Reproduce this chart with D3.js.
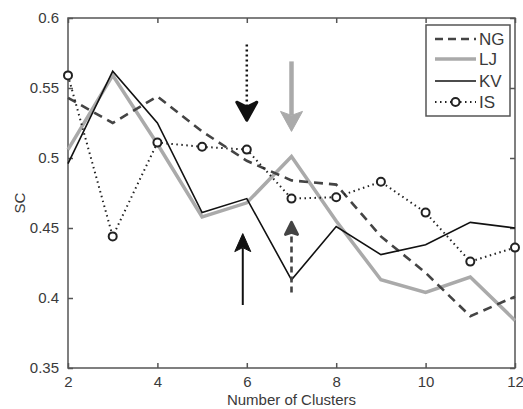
<!DOCTYPE html>
<html><head><meta charset="utf-8">
<script src="https://cdn.jsdelivr.net/npm/d3@7"></script>
<style>body{margin:0;background:#fff}svg{display:block}text{font-family:"Liberation Sans",Arial,sans-serif;fill:#3a3a3a}</style>
</head><body><svg id="c" width="523" height="409"></svg>
<script>
const clusters = [2,3,4,5,6,7,8,9,10,11,12];
const NG = [0.543,0.525,0.544,0.519,0.498,0.484,0.481,0.444,0.418,0.387,0.401];
const LJ = [0.506,0.559,0.510,0.458,0.468,0.501,0.455,0.413,0.404,0.415,0.384];
const KV = [0.496,0.562,0.525,0.461,0.471,0.413,0.451,0.431,0.438,0.454,0.450];
const IS = [0.559,0.444,0.511,0.508,0.506,0.471,0.472,0.483,0.461,0.426,0.436];
const seriesNames = ["NG","LJ","KV","IS"];
const xTicks = [2,4,6,8,10,12];
const yTicks = [0.35,0.4,0.45,0.5,0.55,0.6];
const yTickLabels = ["0.35","0.4","0.45","0.5","0.55","0.6"];
// annotation arrows: [x, yStart, yEnd] in data units
const arrowDottedDown = [6, 0.581, 0.527];
const arrowGrayDown = [7, 0.569, 0.519];
const arrowBlackUp = [5.91, 0.395, 0.446];
const arrowDashedUp = [7, 0.404, 0.454];

const svg = d3.select("#c");
const L=68,R=515,T=18,B=368;
const x = d3.scaleLinear().domain([2,12]).range([L,R]);
const y = d3.scaleLinear().domain([0.35,0.6]).range([B,T]);
const axisCol="#555";

svg.append("rect").attr("x",L).attr("y",T).attr("width",R-L).attr("height",B-T)
  .attr("fill","none").attr("stroke",axisCol).attr("stroke-width",1.5);

const xa = svg.append("g").attr("transform",`translate(0,${B})`)
  .call(d3.axisBottom(x).tickValues(xTicks).tickSize(-5).tickPadding(8).tickFormat(d3.format("d")));
const xt = svg.append("g").attr("transform",`translate(0,${T})`)
  .call(d3.axisTop(x).tickValues(xTicks).tickSize(-5).tickFormat(""));
const ya = svg.append("g").attr("transform",`translate(${L},0)`)
  .call(d3.axisLeft(y).tickValues(yTicks).tickSize(-5).tickPadding(9).tickFormat((d,i)=>yTickLabels[i]));
const yr = svg.append("g").attr("transform",`translate(${R},0)`)
  .call(d3.axisRight(y).tickValues(yTicks).tickSize(-5).tickFormat(""));
[xa,xt,ya,yr].forEach(g=>{
  g.select(".domain").remove();
  g.selectAll(".tick line").attr("stroke",axisCol).attr("stroke-width",1.5);
  g.selectAll("text").attr("font-size",15).attr("fill","#3a3a3a").attr("font-family","Liberation Sans, Arial, sans-serif");
});
svg.append("text").attr("x",(L+R)/2).attr("y",405).attr("text-anchor","middle").attr("font-size",15).text("Number of Clusters");
svg.append("text").attr("transform",`translate(25,${(T+B)/2+10}) rotate(-90)`).attr("text-anchor","middle").attr("font-size",15).text("SC");

const line = d3.line().x((d,i)=>x(clusters[i])).y(d=>y(d));
const styles = {
  NG:{stroke:"#444",w:2.6,dash:"9,6"},
  LJ:{stroke:"#aaa",w:3.5,dash:null},
  KV:{stroke:"#111",w:1.6,dash:null},
  IS:{stroke:"#222",w:2,dash:"1.5,3.5"}
};
const data = {NG,LJ,KV,IS};
["LJ","NG","KV","IS"].forEach(k=>{
  const s=styles[k];
  svg.append("path").datum(data[k]).attr("d",line).attr("fill","none")
    .attr("stroke",s.stroke).attr("stroke-width",s.w).attr("stroke-dasharray",s.dash).attr("stroke-linejoin","miter");
});
svg.selectAll("circle.is").data(IS).join("circle").attr("class","is")
  .attr("cx",(d,i)=>x(clusters[i])).attr("cy",d=>y(d)).attr("r",4)
  .attr("fill","#fff").attr("stroke","#222").attr("stroke-width",2);

function head(px,tip,dir,len,half,notch){
  const base=tip-dir*len, mid=tip-dir*(len-notch);
  return `M${px},${tip}L${px-half},${base}L${px},${mid}L${px+half},${base}Z`;
}
function arrow(a,col,w,dash,len,half,notch,round){
  const px=x(a[0]), y0=y(a[1]), y1=y(a[2]);
  const dir = y1>y0?1:-1;
  svg.append("line").attr("x1",px).attr("x2",px).attr("y1",y0).attr("y2",y1-dir*(len-notch))
    .attr("stroke",col).attr("stroke-width",w).attr("stroke-dasharray",dash);
  svg.append("path").attr("d",head(px,y1,dir,len,half,notch)).attr("fill",col).attr("stroke",col)
    .attr("stroke-width",round?3:1).attr("stroke-linejoin",round?"round":"miter");
}
arrow(arrowDottedDown,"#111",2.5,"2,3",18,10,5,true);
arrow(arrowGrayDown,"#aaa",4.5,null,20,11,4,false);
arrow(arrowBlackUp,"#111",2,null,18,8,4,false);
arrow(arrowDashedUp,"#444",2.6,"6,4",12,6,2,true);

const lg = svg.append("g");
lg.append("rect").attr("x",426).attr("y",25).attr("width",84).attr("height",91)
  .attr("fill","#fff").attr("stroke",axisCol).attr("stroke-width",1.5);
const legY = [39,59,81,102];
seriesNames.forEach((k,i)=>{
  const s=styles[k];
  lg.append("line").attr("x1",435).attr("x2",476).attr("y1",legY[i]).attr("y2",legY[i])
    .attr("stroke",s.stroke).attr("stroke-width",k==="IS"?2:s.w).attr("stroke-dasharray",k==="NG"?"8,5":s.dash);
  if(k==="IS") lg.append("circle").attr("cx",455.5).attr("cy",legY[i]).attr("r",4).attr("fill","#fff").attr("stroke","#222").attr("stroke-width",2);
  lg.append("text").attr("x",479).attr("y",legY[i]+6).attr("font-size",17).text(k);
});
</script></body></html>
